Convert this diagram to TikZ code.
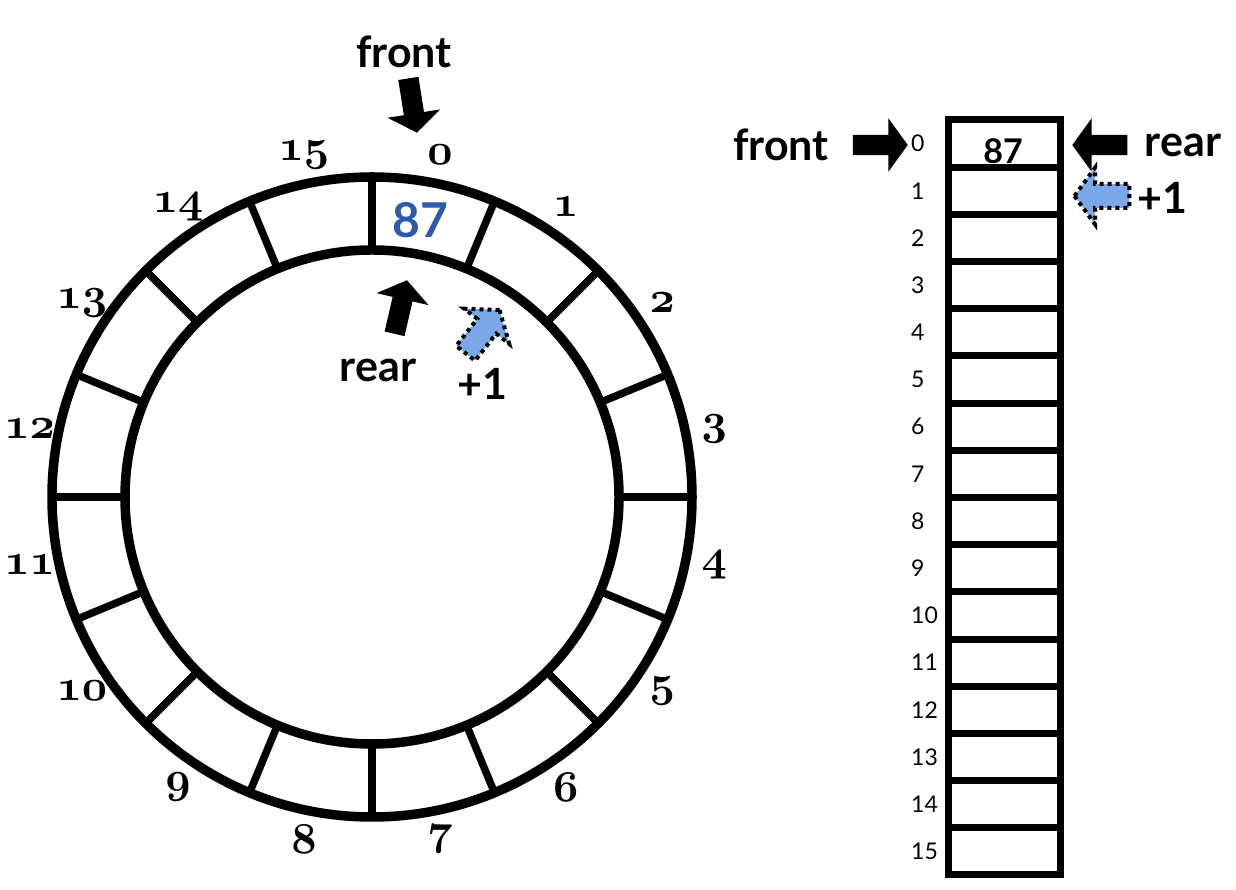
\RequirePackage{fix-cm}
\documentclass[tikz,border=0pt]{standalone}
\usepackage{fontspec}
\setsansfont{Lato}
\usetikzlibrary{shapes.arrows,calc}
\definecolor{valblue}{RGB}{42,91,172}
\definecolor{stepblue}{RGB}{122,168,232}
\newcommand{\ringidx}[1]{{\fontencoding{OML}\fontfamily{cmm}\fontseries{b}\fontshape{it}\fontsize{44}{44}\selectfont #1}}

\begin{document}
\begin{tikzpicture}[x=1pt, y=1pt, ring/.style={line width=9.5pt}, divider/.style={line width=7.5pt}, cell/.style={draw, line width=7pt, minimum width=112pt, minimum height=47.19pt, inner sep=0pt}, idx/.style={font=\sffamily\fontsize{23}{23}\selectfont, anchor=west, inner sep=0pt}, tag/.style={font=\sffamily\bfseries\fontsize{43}{43}\selectfont, inner sep=0pt}, blockarrow/.style={single arrow, fill=black, inner xsep=0pt, inner ysep=10pt, minimum height=55pt, single arrow head extend=16.5pt, single arrow tip angle=108, anchor=tip}, steparrow/.style={blockarrow, fill=stepblue, draw=black, line width=4pt, dash pattern=on 4pt off 4pt}]
\useasboundingbox (0,0) rectangle (1236,890);
% circular buffer
\coordinate (c) at (372,393);
\draw[ring] (c) circle[radius=320] (c) circle[radius=247];
\foreach \k in {0,...,15}
  \draw[divider, shift={(c)}] (90-22.5*\k:247) -- (90-22.5*\k:320);
\foreach \k in {0,...,15}
  \node (n\k) at ($(c)+(78.75-22.5*\k:349)$) {\ringidx{\k}};
\node[font=\sffamily\bfseries\fontsize{48}{48}\selectfont, text=valblue] (val) at ($(c)+(80:281)$) {87};
\node[tag] (front) at (404,838) {front};
\node[blockarrow, rotate=-81] (frontptr) at (417,757) {};
\node[blockarrow, rotate=77] (rearptr) at (407,610) {};
\node[tag] (rear) at (378,520) {rear};
\node[steparrow, rotate=52] (stepptr) at (501,582) {};
\node[tag] (plusone) at (482,506) {+1};
% linear array
\foreach \k in {0,...,15} {
  \node[cell] (a\k) at (1004,746.41-47.1875*\k) {};
  \node[idx] (i\k) at (911,746.41-47.1875*\k) {\k};
}
\node[font=\sffamily\bfseries\fontsize{34}{34}\selectfont] (val2) at (1003,739) {87};
\node[tag] (front2) at (781,745) {front};
\node[blockarrow] (frontptr2) at (908,745) {};
\node[blockarrow, rotate=180] (rearptr2) at (1072,745) {};
\node[tag] (rear2) at (1183,745) {rear};
\node[steparrow, rotate=180] (stepptr2) at (1072,694) {};
\node[tag] (plusone2) at (1162,692) {+1};
\end{tikzpicture}
\end{document}
